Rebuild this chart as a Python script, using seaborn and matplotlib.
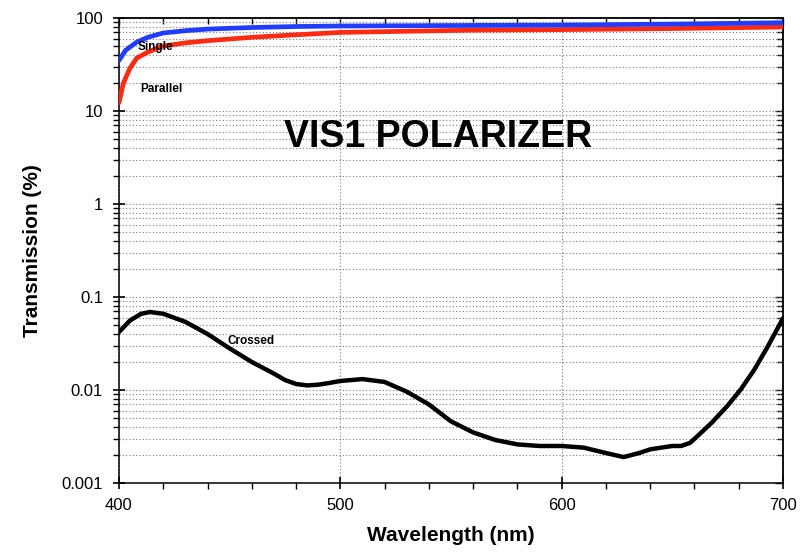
import numpy as np
import pandas as pd
import matplotlib
matplotlib.use("Agg")
import matplotlib.pyplot as plt
import matplotlib.ticker as mticker
import seaborn as sns

# ---- data ----
single_nm = [400, 403, 408, 413, 420, 430, 440, 460, 480, 500, 550, 600, 650, 700]
single_t = [35, 45, 55, 62, 69, 73, 76, 79, 81, 82, 83, 84, 86, 89]

parallel_nm = [400, 402, 405, 408, 413, 420, 430, 440, 460, 480, 500, 530, 560, 600, 650, 700]
parallel_t = [12.3, 20, 29, 37, 43, 50, 54, 57, 62, 66, 70, 72, 74, 75, 77, 80]

crossed_nm = [400, 405, 410, 414, 420, 430, 440, 450, 460, 470, 475, 480, 485, 490,
              495, 500, 510, 520, 530, 540, 550, 560, 570, 580, 590, 600, 610, 620,
              628, 635, 640, 645, 650, 654, 658, 662, 668, 675, 681, 687, 693, 700]
crossed_t = [0.042, 0.056, 0.066, 0.069, 0.066, 0.054, 0.040, 0.028, 0.020, 0.015,
             0.0128, 0.0116, 0.0112, 0.0114, 0.0119, 0.0125, 0.0131, 0.0122, 0.0096,
             0.0070, 0.0046, 0.0035, 0.0029, 0.0026, 0.0025, 0.0025, 0.0024, 0.0021,
             0.0019, 0.0021, 0.0023, 0.0024, 0.0025, 0.0025, 0.0027, 0.0033, 0.0045,
             0.0068, 0.0102, 0.0165, 0.029, 0.059]

x_ticks = [400, 500, 600, 700]
y_ticks = [0.001, 0.01, 0.1, 1, 10, 100]
y_tick_labels = ["0.001", "0.01", "0.1", "1", "10", "100"]

series_labels = ["Single", "Parallel", "Crossed"]
title_text = "VIS1 POLARIZER"
x_label = "Wavelength (nm)"
y_label = "Transmission (%)"

# ---- style ----
sns.set_theme(style="white")
plt.rcParams["font.family"] = ["Liberation Sans", "DejaVu Sans"]
plt.rcParams["text.color"] = "black"
plt.rcParams["axes.labelcolor"] = "black"
plt.rcParams["xtick.color"] = "black"
plt.rcParams["ytick.color"] = "black"
plt.rcParams["xtick.bottom"] = True
plt.rcParams["ytick.left"] = True
plt.rcParams["xtick.minor.visible"] = True
plt.rcParams["ytick.minor.visible"] = True

fig = plt.figure(figsize=(8.02, 5.59), dpi=100)
ax = fig.add_axes([119 / 802, 1 - 483 / 559, 664 / 802, 465 / 559])

df_s = pd.DataFrame({"nm": single_nm, "T": single_t})
df_p = pd.DataFrame({"nm": parallel_nm, "T": parallel_t})
df_c = pd.DataFrame({"nm": crossed_nm, "T": crossed_t})

sns.lineplot(data=df_p, x="nm", y="T", ax=ax, color="#ff2a12", lw=3.4, zorder=4)
sns.lineplot(data=df_s, x="nm", y="T", ax=ax, color="#1f3cff", lw=3.4, zorder=5)
sns.lineplot(data=df_c, x="nm", y="T", ax=ax, color="black", lw=3.2, zorder=5)

ax.set_yscale("log")
ax.set_xlim(400, 700)
ax.set_ylim(0.001, 100)

ax.xaxis.set_major_locator(mticker.FixedLocator(x_ticks))
ax.xaxis.set_minor_locator(mticker.MultipleLocator(20))
ax.set_yticks(y_ticks)
ax.set_yticklabels(y_tick_labels)
ax.yaxis.set_minor_locator(mticker.LogLocator(base=10, subs=np.arange(2, 10)))
ax.yaxis.set_minor_formatter(mticker.NullFormatter())
ax.xaxis.set_ticks_position("bottom")
ax.yaxis.set_ticks_position("left")

# grid
gkw = dict(color="#7a7a7a", linestyle=(0, (1, 2)), linewidth=0.8)
ax.grid(True, which="major", axis="x", **gkw)
ax.grid(True, which="both", axis="y", **gkw)
ax.set_axisbelow(True)

for sp in ax.spines.values():
    sp.set_color("black")
    sp.set_linewidth(1.1)

ax.tick_params(which="major", direction="inout", length=9, width=1.2, color="black",
               labelsize=12, pad=6, labelcolor="black")
ax.tick_params(which="minor", direction="out", length=4, width=1.0, color="black")
ax.tick_params(axis="y", which="major", pad=7)

# top and right ticks (inward)
secx = ax.secondary_xaxis("top")
secx.xaxis.set_major_locator(mticker.FixedLocator(x_ticks))
secx.xaxis.set_minor_locator(mticker.MultipleLocator(20))
secx.tick_params(which="both", top=True, direction="in", labeltop=False, color="black", width=1.0)
secx.tick_params(which="major", length=5)
secx.tick_params(which="minor", length=4)
secx.spines["top"].set_linewidth(1.1)

secy = ax.secondary_yaxis("right")
secy.set_yticks(y_ticks)
secy.yaxis.set_minor_locator(mticker.LogLocator(base=10, subs=np.arange(2, 10)))
secy.yaxis.set_minor_formatter(mticker.NullFormatter())
secy.tick_params(which="both", right=True, direction="in", labelright=False, color="black", width=1.0)
secy.tick_params(which="major", length=6)
secy.tick_params(which="minor", length=4)
secy.spines["right"].set_linewidth(1.1)

ax.set_xlabel(x_label, fontsize=15, fontweight="bold", labelpad=10)
ax.set_ylabel(y_label, fontsize=15, fontweight="bold", labelpad=14)

# annotations
ax.text(0.480, 0.744, title_text, transform=ax.transAxes, fontsize=27,
        fontweight="bold", ha="center", va="center", zorder=6)
ax.text(408.6, 48.7, series_labels[0], fontsize=8.5, fontweight="bold",
        ha="left", va="center", zorder=6)
ax.text(409.5, 17.3, series_labels[1], fontsize=8.5, fontweight="bold",
        ha="left", va="center", zorder=6)
ax.text(448.8, 0.0337, series_labels[2], fontsize=8.5, fontweight="bold",
        ha="left", va="center", zorder=6)

fig.savefig("out.png", dpi=100)
